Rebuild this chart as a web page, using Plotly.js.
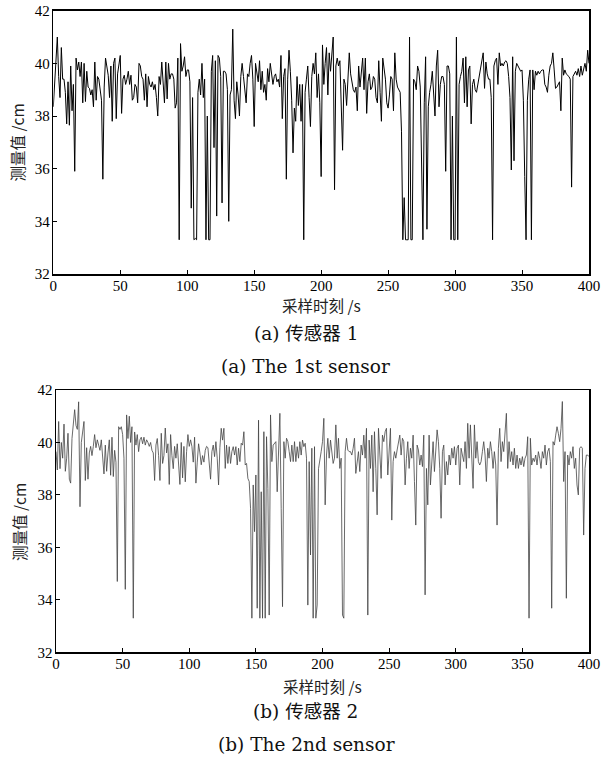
<!DOCTYPE html>
<html>
<head>
<meta charset="utf-8">
<script src="https://cdn.plot.ly/plotly-3.0.1.min.js"></script>
<style>html,body{margin:0;padding:0;background:#fff;}#chart{width:601px;height:762px;}</style>
</head>
<body>
<div id="chart"></div>
<script>
// Sensor 1 measurements (cm), one sample per second, t = 0..400 s
const sensor1 = [
38.35,39.2,40.4,41.0,39.5,38.7,40.6,39.4,39.4,38.9,37.7,39.3,37.65,39.9,38.2,39.2,35.9,40.2,39.75,40.05,
39.5,40.05,38.5,40.0,38.55,39.7,39.1,39.05,38.8,39.0,38.35,40.05,38.6,39.5,39.4,39.0,38.6,35.6,39.1,40.2,
39.8,39.55,38.7,39.9,37.8,40.0,40.2,37.9,39.6,39.9,40.3,38.1,39.4,39.55,39.2,39.4,39.7,39.2,39.55,38.6,
38.7,39.2,39.1,38.5,40.0,39.9,39.5,39.4,38.6,39.6,38.35,39.5,39.2,39.1,39.3,39.0,39.2,38.7,38.0,39.5,
39.2,40.05,39.2,38.5,40.05,38.65,40.0,39.4,39.6,39.6,39.4,38.3,38.5,40.2,33.3,40.75,39.7,39.9,40.25,39.5,
39.75,39.75,39.3,34.5,38.7,33.3,33.35,33.3,38.9,39.4,38.8,40.0,38.7,39.4,33.3,38.0,33.3,33.3,39.7,40.3,
36.8,40.1,34.2,40.3,40.2,39.5,34.7,39.7,39.7,39.6,39.0,34.0,38.8,39.0,41.3,38.6,37.9,39.3,38.8,38.0,
39.5,40.0,39.5,39.0,38.5,39.6,39.5,40.0,40.3,39.4,37.6,40.0,39.6,39.3,40.1,39.0,39.7,38.9,39.2,38.6,
39.8,39.3,40.0,39.6,39.2,39.5,39.6,39.3,39.4,39.1,40.3,37.9,39.5,39.8,35.6,39.4,40.5,39.7,38.6,36.6,
38.3,37.8,39.5,38.4,39.2,37.8,39.2,33.3,38.9,39.4,39.9,38.7,37.6,39.5,40.0,39.6,40.4,38.7,39.6,38.5,
35.7,40.7,39.2,40.0,40.6,38.8,40.4,39.7,40.5,41.0,35.2,39.9,40.2,39.9,40.1,38.6,36.7,39.4,39.2,38.4,
39.5,40.4,39.6,39.2,39.0,38.9,39.1,38.2,39.9,39.1,39.8,40.2,39.0,40.2,38.1,39.3,39.6,39.0,39.1,39.5,
39.4,38.7,38.5,40.1,38.9,37.8,40.2,39.8,39.4,38.5,38.3,38.8,39.5,39.4,38.2,40.4,39.4,39.1,39.0,38.9,
37.4,33.3,34.9,33.3,33.3,33.3,41.0,33.3,33.3,39.4,39.3,39.0,39.9,39.7,39.1,36.7,33.3,38.5,40.25,33.7,
38.35,38.9,39.2,39.7,38.9,38.0,39.9,40.5,38.35,39.2,39.5,39.5,39.2,35.9,39.9,39.9,39.6,33.3,38.0,33.3,
33.3,41.0,33.3,39.2,39.5,39.7,40.2,38.5,40.25,38.35,39.75,39.9,37.7,39.2,39.4,39.0,38.9,39.2,39.5,39.9,
40.1,40.4,39.05,40.05,39.6,39.4,39.4,38.7,33.3,39.9,40.1,40.2,39.2,40.4,39.9,40.0,39.9,40.05,40.1,40.0,
39.5,38.7,35.95,40.25,36.3,39.7,40.0,39.9,39.8,39.7,39.75,38.6,35.7,33.3,38.6,39.4,39.75,33.3,39.75,39.0,
39.7,39.55,39.7,39.6,39.7,39.75,39.75,39.2,39.1,38.9,39.55,39.9,40.0,40.4,39.75,39.05,39.1,39.2,39.3,38.2,
40.2,39.55,39.75,39.6,39.55,39.5,39.4,35.3,39.5,39.6,39.7,39.55,39.8,39.5,39.9,39.55,39.75,40.0,39.7,40.5,
40.0
];

// Sensor 2 measurements (cm), one sample per second, t = 0..400 s
const sensor2 = [
39.65,38.95,40.8,39.0,40.0,39.4,40.7,38.9,39.4,40.35,38.6,38.45,40.15,40.7,41.25,40.65,40.5,41.55,37.55,40.0,
40.4,40.8,38.55,39.8,38.6,39.6,39.85,39.5,39.85,40.3,39.8,40.1,39.9,39.7,40.1,39.45,38.8,39.9,38.9,39.6,
40.1,38.75,40.2,38.7,39.7,39.25,34.7,40.6,40.5,40.6,40.3,39.4,34.4,41.05,40.15,41.0,40.0,40.6,33.3,40.4,
39.9,40.3,39.65,40.1,40.2,39.95,40.2,39.9,40.1,40.0,39.85,40.0,39.7,39.6,38.55,39.9,40.15,39.5,38.55,40.35,
39.2,39.5,40.55,39.6,39.95,38.4,40.3,39.5,39.0,39.85,39.4,39.95,39.1,38.4,40.0,38.65,39.85,38.5,39.65,40.3,
39.85,40.1,39.85,39.25,40.2,38.45,39.25,39.95,39.6,39.15,39.5,39.25,39.7,39.85,39.8,39.15,38.6,39.65,39.9,39.46,
40.03,39.4,38.38,39.8,40.54,40.09,40.54,39.01,39.9,39.2,39.84,39.2,39.65,39.84,39.52,39.84,39.14,39.78,39.27,39.97,
39.9,40.41,39.14,39.2,38.63,38.51,37.49,33.3,38.38,36.6,38.76,33.68,40.85,33.3,38.12,33.3,40.41,33.3,40.22,38.25,
33.42,41.05,39.27,39.9,39.97,40.03,38.12,39.65,41.11,37.49,33.74,40.03,39.4,40.16,40.03,39.65,39.27,39.9,39.27,40.03,
39.27,39.84,39.4,40.03,39.52,40.09,39.84,39.97,39.4,33.8,39.27,35.71,39.78,33.3,39.84,33.3,33.8,39.0,39.27,39.65,
40.03,40.92,37.62,39.52,40.16,39.4,40.09,39.52,39.2,39.4,40.67,39.4,40.16,39.01,39.4,33.42,33.3,39.65,40.16,39.71,
39.65,39.65,39.52,39.78,40.16,38.82,39.27,39.65,38.89,39.9,39.52,40.28,39.4,40.54,33.42,40.09,39.01,40.28,38.12,40.41,
39.01,37.24,40.54,39.27,38.63,40.28,40.03,40.41,40.54,38.76,39.78,40.54,37.04,39.27,39.65,39.4,39.71,40.03,40.28,39.52,
40.16,40.03,38.38,39.4,40.03,39.01,39.78,39.4,40.28,38.51,36.85,39.9,39.71,39.14,39.52,39.08,40.28,34.19,39.01,37.62,
40.28,38.38,39.27,40.03,38.89,39.97,40.48,40.03,39.01,37.11,39.65,39.9,38.38,39.27,38.76,39.52,39.14,39.78,39.4,39.84,
39.14,39.78,39.9,38.38,39.78,39.52,39.27,40.03,39.01,40.73,39.4,40.67,39.71,38.25,40.67,39.4,40.03,39.27,39.14,39.27,
39.65,40.03,39.52,38.51,39.78,39.4,40.03,39.65,39.01,39.65,39.14,36.85,39.78,40.54,39.27,40.03,39.65,40.28,41.11,39.01,
40.03,39.27,39.65,39.14,39.78,39.01,39.52,39.01,39.4,39.14,39.46,39.08,39.4,39.52,40.22,33.3,40.16,39.14,39.4,39.27,
39.52,39.14,39.65,39.4,39.01,39.65,39.4,39.9,39.14,39.65,39.78,39.27,33.68,40.03,39.9,40.28,40.6,40.35,40.03,40.54,
41.56,38.51,39.65,34.06,39.52,39.14,39.65,39.4,39.84,39.01,39.4,38.38,38.0,39.78,39.84,39.78,36.47,39.01,39.52,39.52,
39.46
];

const time1 = sensor1.map((_, i) => i);
const time2 = sensor2.map((_, i) => i);

const xTicks = [0, 50, 100, 150, 200, 250, 300, 350, 400];
const yTicks = [32, 34, 36, 38, 40, 42];

const yTitle = '测量值 /cm';
const xTitle = '采样时刻 /s';
const captionA = '(a) 传感器 1';
const captionAEn = '(a) The 1st sensor';
const captionB = '(b) 传感器 2';
const captionBEn = '(b) The 2nd sensor';

const W = 601, H = 762;
const px = v => v / W;
const py = v => 1 - v / H;

const tickFont = {family: 'Liberation Serif', size: 15, color: '#000'};
const cjkFont = {family: 'Noto Sans CJK SC', size: 15.5, color: '#222'};
const capFont = {family: 'DejaVu Serif, Noto Sans CJK SC', size: 18.5, color: '#111'};

function axisX(domain, anchor) {
  return {
    domain: domain, anchor: anchor, range: [0, 400], tickvals: xTicks,
    ticks: 'inside', ticklen: 4, tickwidth: 1, tickcolor: '#000',
    ticklabelstandoff: -3,
    showline: true, linecolor: '#000', linewidth: 1.5, mirror: true,
    showgrid: false, zeroline: false, tickfont: tickFont, fixedrange: true
  };
}
function axisY(domain, anchor) {
  return {
    domain: domain, anchor: anchor, range: [32, 42], tickvals: yTicks,
    ticks: 'inside', ticklen: 4, tickwidth: 1, tickcolor: '#000',
    ticklabelstandoff: -1,
    showline: true, linecolor: '#000', linewidth: 1.5, mirror: true,
    showgrid: false, zeroline: false, tickfont: tickFont, fixedrange: true
  };
}

const data = [
  {x: time1, y: sensor1, type: 'scatter', mode: 'lines', xaxis: 'x', yaxis: 'y',
   line: {color: '#000', width: 1}, name: captionAEn, hoverinfo: 'x+y'},
  {x: time2, y: sensor2, type: 'scatter', mode: 'lines', xaxis: 'x2', yaxis: 'y2',
   line: {color: '#444', width: 0.8}, name: captionBEn, hoverinfo: 'x+y'}
];

const ann = (text, x, y, font, extra) => Object.assign({
  text: text, xref: 'paper', yref: 'paper', x: px(x), y: py(y),
  xanchor: 'center', yanchor: 'middle', showarrow: false, font: font
}, extra || {});

const layout = {
  width: W, height: H,
  margin: {l: 0, r: 0, t: 0, b: 0},
  paper_bgcolor: '#fff', plot_bgcolor: '#fff',
  showlegend: false,
  xaxis: axisX([px(53.3), px(589)], 'y'),
  yaxis: axisY([py(274), py(10.7)], 'x'),
  xaxis2: axisX([px(56), px(589)], 'y2'),
  yaxis2: axisY([py(652.3), py(390)], 'x2'),
  annotations: [
    ann(yTitle, 16.5, 143, cjkFont, {textangle: -90}),
    ann(xTitle, 321, 305, cjkFont),
    ann(captionA, 306, 333, capFont),
    ann(captionAEn, 305, 366, capFont),
    ann(yTitle, 19, 522, cjkFont, {textangle: -90}),
    ann(xTitle, 322, 686, cjkFont),
    ann(captionB, 305, 711, capFont),
    ann(captionBEn, 306, 744, capFont)
  ]
};

Plotly.newPlot('chart', data, layout, {displayModeBar: false, staticPlot: true});
</script>
</body>
</html>
